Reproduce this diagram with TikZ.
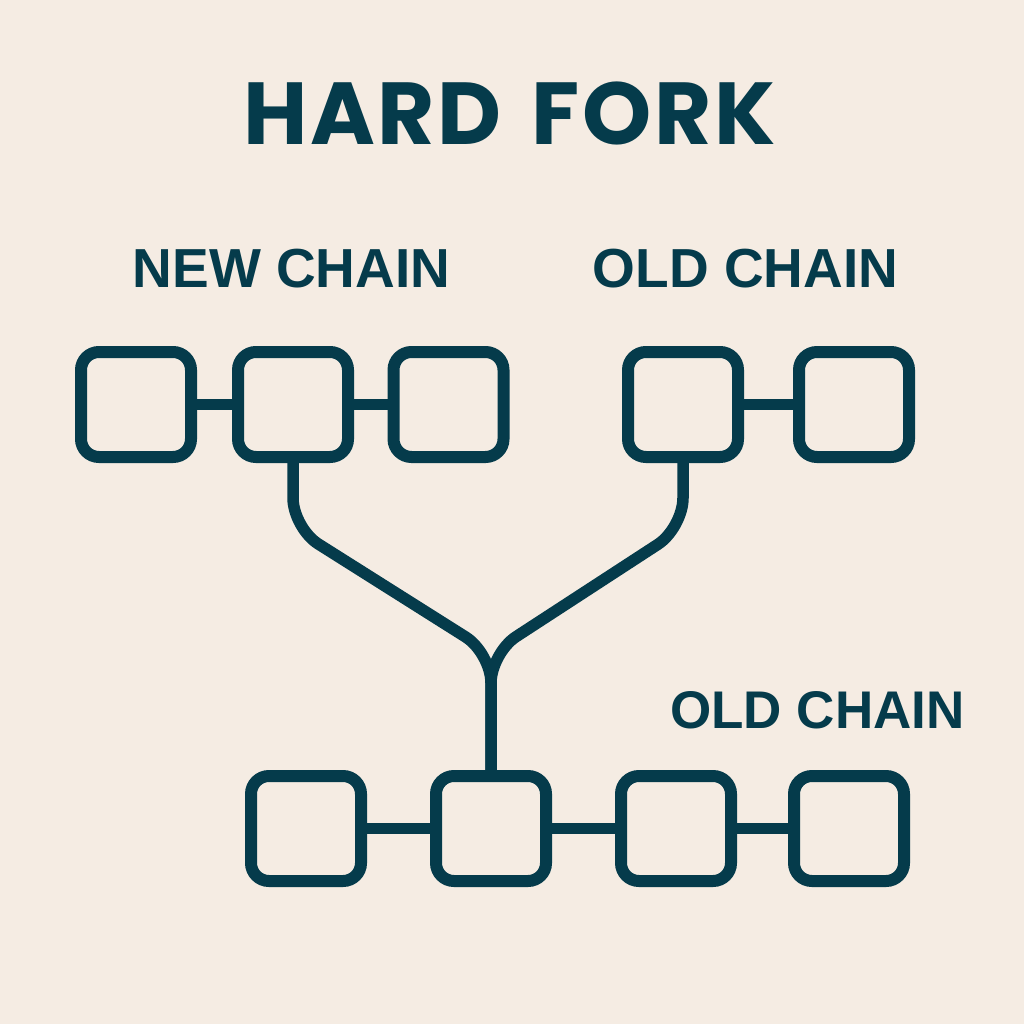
\documentclass[tikz,border=0pt]{standalone}
\usepackage{fontspec}
\setmainfont{Liberation Sans}
\newfontfamily\titlefont[LetterSpace=3]{Poppins}
\definecolor{bg}{HTML}{F5ECE3}
\definecolor{ink}{HTML}{053B4B}
\begin{document}
\begin{tikzpicture}[x=1pt,y=-1pt,
  blk/.style={draw=ink,line width=12pt,rounded corners=18pt,minimum width=110pt,minimum height=105pt,inner sep=0pt},
  link/.style={draw=ink,line width=11.5pt},
  fork/.style={draw=ink,line width=11.5pt,rounded corners=30pt},
  lbl/.style={text=ink,font=\bfseries\fontsize{55}{60}\selectfont,anchor=base,inner sep=0pt}]
\fill[bg] (0,0) rectangle (1024,1024);
\useasboundingbox (0,0) rectangle (1024,1024);
\node[text=ink,font=\titlefont\bfseries\fontsize{88}{96}\selectfont,anchor=base,inner sep=0pt] (title) at (509.5,145) {HARD\hspace{30pt}FORK};
\node[lbl] (newl) at (291.5,287) {NEW CHAIN};
\node[lbl] (oldl) at (745.5,287) {OLD CHAIN};
\node[lbl,font=\bfseries\fontsize{53}{58}\selectfont] (oldb) at (817.5,728) {OLD CHAIN};
% top row
\node[blk] (t1) at (136,404.5) {};
\node[blk] (t2) at (293,404.5) {};
\node[blk] (t3) at (448.5,404.5) {};
\node[blk] (t4) at (683,404.5) {};
\node[blk] (t5) at (854,404.5) {};
% bottom row
\node[blk] (b1) at (306,828.5) {};
\node[blk] (b2) at (491,828.5) {};
\node[blk] (b3) at (676,828.5) {};
\node[blk] (b4) at (849,828.5) {};
% fork points
\coordinate (lk) at (293,528);
\coordinate (rk) at (683,528);
\coordinate (mg) at (491,653);
% links
\draw[link] (t1) -- (t2);
\draw[link] (t2) -- (t3);
\draw[link] (t4) -- (t5);
\draw[link] (b1) -- (b2);
\draw[link] (b2) -- (b3);
\draw[link] (b3) -- (b4);
\draw[fork] (t2.south) -- (lk) -- (mg) -- (b2.north);
\draw[fork] (t4.south) -- (rk) -- (mg) -- (b2.north);
\end{tikzpicture}
\end{document}
